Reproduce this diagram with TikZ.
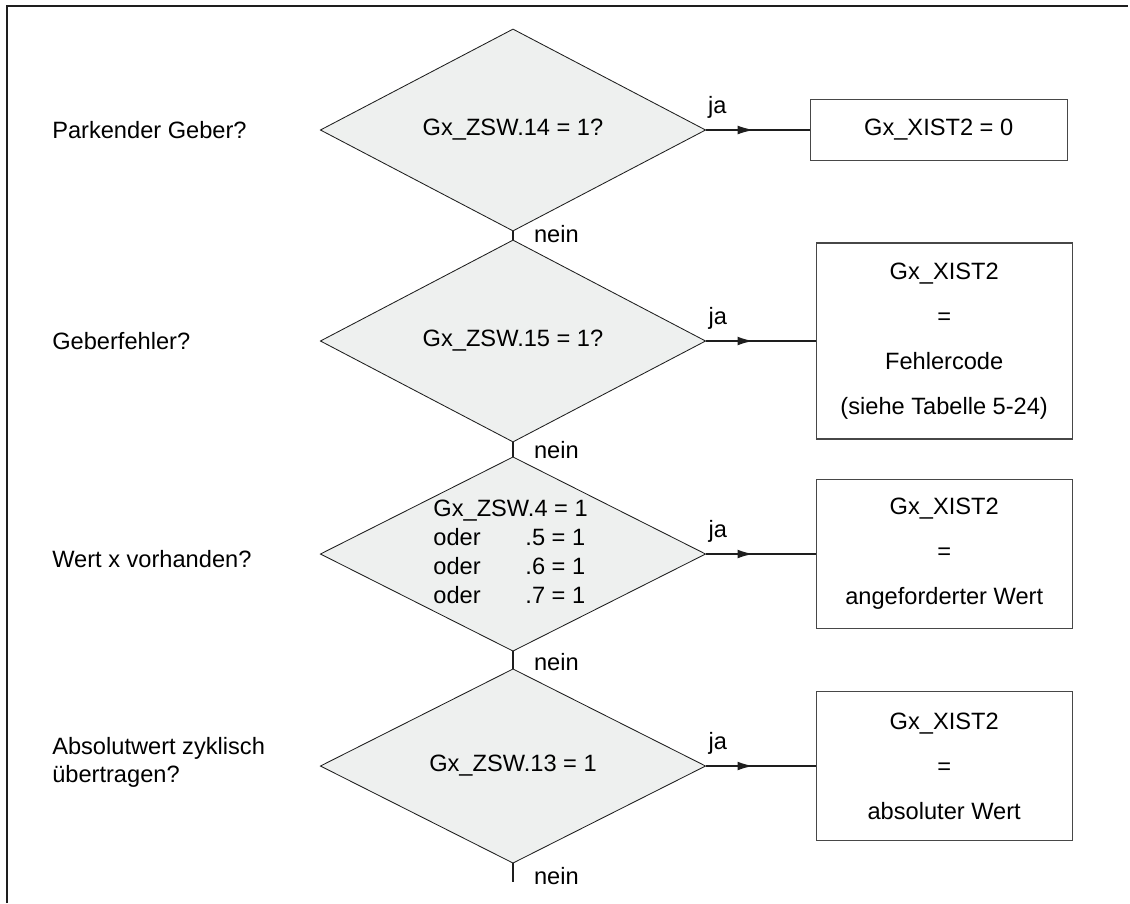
\documentclass[tikz,border=0pt]{standalone}
\usepackage{fontspec}
\setmainfont{Liberation Sans}
\usetikzlibrary{positioning,arrows.meta,shapes.geometric,decorations.markings}
\definecolor{LineDark}{HTML}{1E1E1E}
\definecolor{BoxGrey}{HTML}{474747}
\definecolor{DiaFill}{HTML}{EEF0EF}

\begin{document}
\begin{tikzpicture}[x=0.025cm,y=-0.025cm,
  font=\fontsize{16.8pt}{20pt}\selectfont,
  decision/.style={draw=LineDark,fill=DiaFill,shape=diamond,minimum width=9.625cm,minimum height=4.85cm,inner sep=0pt,outer sep=0pt,line width=0.6pt},
  result/.style={draw=BoxGrey,line width=0.8pt,minimum width=6.4cm,align=center,font=\fontsize{16.8pt}{32pt}\selectfont},
  question/.style={anchor=west,inner sep=0pt,align=left},
  nein/.style={draw=LineDark,line width=1.5pt},
  ja/.style={draw=LineDark,line width=1.5pt,postaction={decorate},
    decoration={markings,mark=at position 1.2cm with {\arrow{Latex[length=0.4cm,width=0.22cm]}}}},
  jalabel/.style={pos=0,anchor=base west,inner sep=0pt,xshift=0.05cm,yshift=0.425cm},
  neinlabel/.style={pos=1,anchor=base west,inner sep=0pt,xshift=0.5cm,yshift=-0.05cm}]
  \useasboundingbox (0,0) rectangle (1130,903);
  \draw[line width=1.2pt,LineDark] (7,903) -- (7,6) -- (1128,6);

  % Abfragen
  \node[decision] (d1) at (513,130) {Gx\_ZSW.14 = 1?};
  \node[decision] (d2) at (513,341) {Gx\_ZSW.15 = 1?};
  \node[decision] (d3) at (513,554) {};
  \node[decision] (d4) at (513,766) {Gx\_ZSW.13 = 1};
  \node[align=left,inner sep=0pt,font=\fontsize{16.8pt}{20.6pt}\selectfont] (d3txt)
    at ([xshift=-0.06cm,yshift=0.06cm]d3.center)
    {Gx\_ZSW.4 = 1\\\makebox[2.3cm][l]{oder}.5 = 1\\\makebox[2.3cm][l]{oder}.6 = 1\\\makebox[2.3cm][l]{oder}.7 = 1};

  \node[question] (q1) at (52,130) {Parkender Geber?};
  \node[question] (q2) at (52,341) {Geberfehler?};
  \node[question] (q3) at (52,559) {Wert x vorhanden?};
  \node[question] (q4) at (52,762) {Absolutwert zyklisch\\übertragen?};

  % Ergebnisse
  \node[result,right=2.6cm of d1,minimum width=6.425cm,minimum height=1.525cm] (b1) {Gx\_XIST2 = 0};
  \node[result,right=2.75cm of d2,minimum height=4.9cm] (b2) {Gx\_XIST2\\=\\Fehlercode\\(siehe Tabelle 5-24)};
  \node[result,right=2.75cm of d3,minimum height=3.725cm] (b3) {Gx\_XIST2\\=\\angeforderter Wert};
  \node[result,right=2.75cm of d4,minimum height=3.725cm] (b4) {Gx\_XIST2\\=\\absoluter Wert};

  \coordinate (end) at (513,882);

  \draw[ja,line width=0.8pt] (d1.east) -- node[jalabel] {ja} (b1.west);
  \draw[ja] (d2.east) -- node[jalabel] {ja} (b2.west);
  \draw[ja] (d3.east) -- node[jalabel] {ja} (b3.west);
  \draw[ja] (d4.east) -- node[jalabel] {ja} (b4.west);

  \draw[nein] (d1.south) -- node[neinlabel] {nein} (d2.north);
  \draw[nein] (d2.south) -- node[neinlabel] {nein} (d3.north);
  \draw[nein] (d3.south) -- node[neinlabel] {nein} (d4.north);
  \draw[nein] (d4.south) -- node[neinlabel] {nein} (end);
\end{tikzpicture}
\end{document}
